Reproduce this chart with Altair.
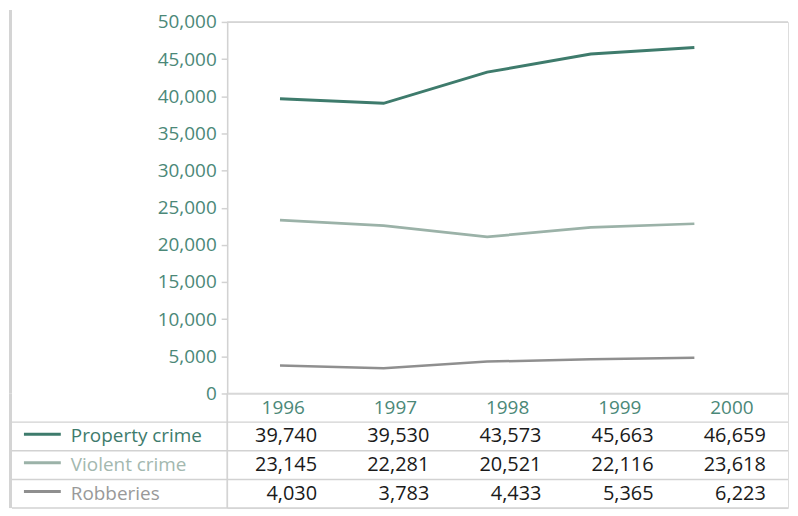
import altair as alt
import pandas as pd

# ---- data ----
years = [1996, 1997, 1998, 1999, 2000]
series = ["Property crime", "Violent crime", "Robberies"]

# values shown in the table
table_property = [39740, 39530, 43573, 45663, 46659]
table_violent = [23145, 22281, 20521, 22116, 23618]
table_robberies = [4030, 3783, 4433, 5365, 6223]

# values as drawn by the lines
line_property = [39670, 39040, 43240, 45670, 46550]
line_violent = [23320, 22600, 21070, 22350, 22840]
line_robberies = [3760, 3400, 4290, 4600, 4820]

y_ticks = list(range(0, 50001, 5000))

# ---- styles ----
FONT = "Open Sans"
TEAL = "#4b8878"
GRID = "#d2d2d2"
line_colors = ["#3e7b6c", "#9bb2a8", "#8f8f8f"]
label_colors = ["#3e7b6c", "#a3b8af", "#999999"]
line_widths = [3, 2.5, 2.5]

W = 563          # plot / table width (page x 227 -> 790)
H_TOP = 373      # line panel height
H_TAB = 115      # table height (4 rows)
COL = W / 5.0    # table column width
TOP_GAP = 12     # room above the 50,000 label

# ---- frames ----
line_df = pd.DataFrame(
    [
        {"series": s, "year": y, "value": v}
        for s, vals in zip(series, [line_property, line_violent, line_robberies])
        for y, v in zip(years, vals)
    ]
)
table_df = pd.DataFrame(
    [
        {"series": s, "year": y, "value": v, "pos": i + 1.5}
        for i, (s, vals) in enumerate(
            zip(series, [table_property, table_violent, table_robberies])
        )
        for y, v in zip(years, vals)
    ]
)
header_df = pd.DataFrame({"year": years, "label": [str(y) for y in years], "pos": [0.5] * len(years)})
rows_df = pd.DataFrame({"series": series, "pos": [i + 1.5 for i in range(len(series))],
                        "swatch": [i + 1.42 for i in range(len(series))]})
row_lines_df = pd.DataFrame({"pos": [1, 2, 3, 4]})
edge_df = pd.DataFrame({"value": [0, 50000]})
one = pd.DataFrame({"a": [0]})

# ---- top chart: lines ----
y_scale = alt.Scale(domain=[0, 50000], nice=False)
y_axis = alt.Axis(
    values=y_ticks, format=",d", title=None, grid=False,
    labelColor=TEAL, labelFont=FONT, labelFontSize=19, labelPadding=5,
    tickColor=GRID, tickSize=6, tickWidth=1.5, domainColor=GRID, domainWidth=1.5,
)
x_line_scale = alt.Scale(domain=[1995.49, 2000.904], nice=False, zero=False)

edges = alt.Chart(edge_df).mark_rule(color=GRID, strokeWidth=1.5).encode(
    y=alt.Y("value:Q", scale=y_scale, axis=y_axis)
)
lines = alt.Chart(line_df).mark_line(strokeCap="butt").encode(
    x=alt.X("year:Q", scale=x_line_scale, axis=None),
    y=alt.Y("value:Q", scale=y_scale, axis=y_axis),
    color=alt.Color("series:N", scale=alt.Scale(domain=series, range=line_colors), legend=None),
    strokeWidth=alt.StrokeWidth("series:N", scale=alt.Scale(domain=series, range=line_widths), legend=None),
    detail="series:N",
)
bar_top = alt.Chart(one).mark_rect(color="#d4d4d4").encode(
    x=alt.value(-219), x2=alt.value(-216), y=alt.value(-TOP_GAP), y2=alt.value(H_TOP)
)
top = alt.layer(bar_top, edges, lines).properties(width=W, height=H_TOP)

# ---- bottom chart: table ----
x_tab_scale = alt.Scale(domain=[1995.5, 1995.5 + W / COL], nice=False, zero=False)
y_tab_scale = alt.Scale(domain=[0, 4], reverse=True, nice=False)

header = alt.Chart(header_df).mark_text(
    font=FONT, fontSize=19, color=TEAL, align="center", baseline="middle"
).encode(
    x=alt.X("year:Q", scale=x_tab_scale, axis=None),
    y=alt.Y("pos:Q", scale=y_tab_scale, axis=None),
    text="label:N",
)
values = alt.Chart(table_df).mark_text(
    font=FONT, fontSize=20, color="#1a1a1a", align="right", baseline="middle", dx=34
).encode(
    x=alt.X("year:Q", scale=x_tab_scale, axis=None),
    y=alt.Y("pos:Q", scale=y_tab_scale, axis=None),
    text=alt.Text("value:Q", format=",d"),
)
row_lines = alt.Chart(row_lines_df).mark_rule(color=GRID, strokeWidth=1.5).encode(
    y=alt.Y("pos:Q", scale=y_tab_scale, axis=None),
    x=alt.value(-216), x2=alt.value(W),
)
vline = alt.Chart(one).mark_rule(color=GRID, strokeWidth=1.5).encode(
    x=alt.value(0), y=alt.value(0), y2=alt.value(H_TAB)
)
swatches = alt.Chart(rows_df).mark_rule(strokeWidth=3, strokeCap="butt").encode(
    y=alt.Y("swatch:Q", scale=y_tab_scale, axis=None),
    x=alt.value(-204), x2=alt.value(-167),
    color=alt.Color("series:N", scale=alt.Scale(domain=series, range=line_colors), legend=None),
)
row_labels = alt.Chart(rows_df).mark_text(
    font=FONT, fontSize=19, align="left", baseline="middle"
).encode(
    y=alt.Y("pos:Q", scale=y_tab_scale, axis=None),
    x=alt.value(-157),
    text="series:N",
    color=alt.Color("series:N", scale=alt.Scale(domain=series, range=label_colors), legend=None),
)
bar_bottom = alt.Chart(one).mark_rect(color="#d4d4d4").encode(
    x=alt.value(-219), x2=alt.value(-216), y=alt.value(0), y2=alt.value(H_TAB)
)
table = (
    alt.layer(bar_bottom, row_lines, vline, header, values, swatches, row_labels)
    .resolve_scale(color="independent")
    .properties(width=W, height=H_TAB)
)

chart = (
    alt.vconcat(top, table, spacing=0, bounds="flush")
    .properties(padding=0)
    .configure_view(stroke=None)
    .configure(background="white")
)

chart.save("out.html", embed_options={"renderer": "svg", "actions": False})
